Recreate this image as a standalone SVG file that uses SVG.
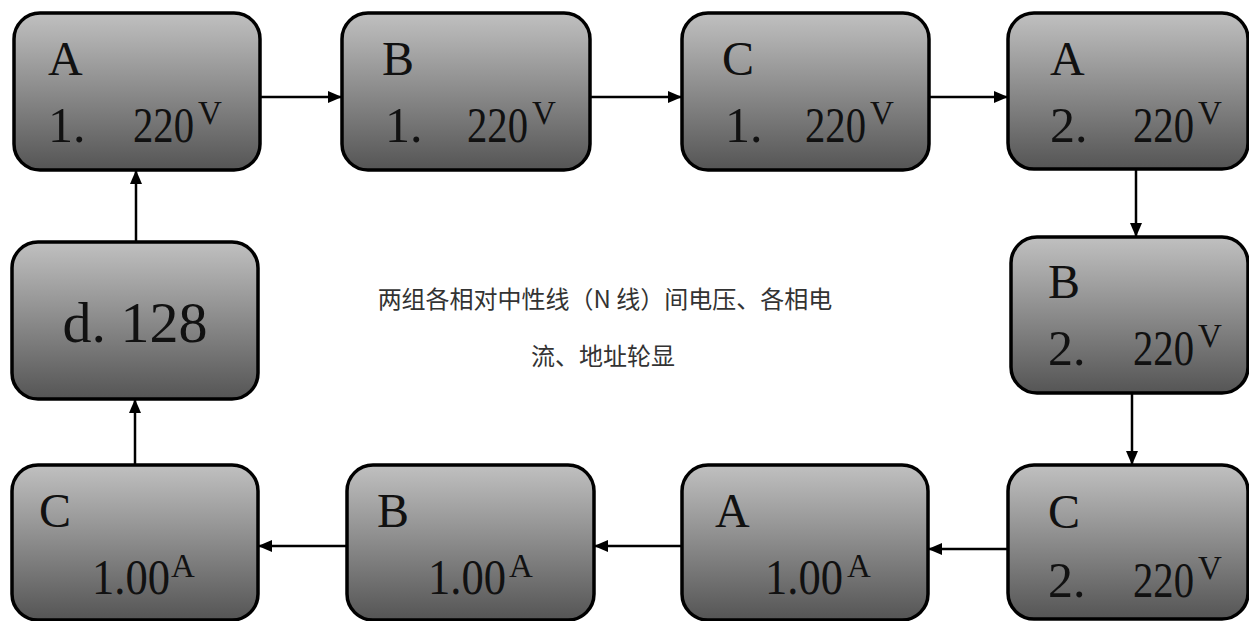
<svg xmlns="http://www.w3.org/2000/svg" width="1249" height="621" viewBox="0 0 1249 621">
<defs>
<linearGradient id="g" x1="0" y1="0" x2="0" y2="1">
<stop offset="0" stop-color="#c0c0c0"/>
<stop offset="1" stop-color="#555555"/>
</linearGradient>
<marker id="ah" markerWidth="14" markerHeight="12" refX="14" refY="6" orient="auto" markerUnits="userSpaceOnUse">
<path d="M0,0 L14,6 L0,12 Z" fill="#000"/>
</marker>
<style>
.box{fill:url(#g);stroke:#000;stroke-width:3.5}
.t{font-family:"Liberation Serif","Times New Roman",serif;font-size:48px;fill:#111}
.n{font-family:"Liberation Serif","Times New Roman",serif;font-size:50px;fill:#111}
.s{font-size:33px}
.big{font-family:"Liberation Serif","Times New Roman",serif;font-size:58px;fill:#111}
.cn{font-family:"Noto Sans CJK SC",sans-serif;font-size:24px;fill:#333}
.c{stroke:#000;stroke-width:2.5;fill:none;marker-end:url(#ah)}
</style>
</defs>
<rect width="1249" height="621" fill="#fff"/>
<g id="connectors">
<line class="c" x1="260" y1="97" x2="342" y2="97"/>
<line class="c" x1="590" y1="97" x2="682" y2="97"/>
<line class="c" x1="929" y1="97" x2="1008" y2="97"/>
<line class="c" x1="1136" y1="170" x2="1136" y2="237"/>
<line class="c" x1="1132" y1="393" x2="1132" y2="465"/>
<line class="c" x1="1008" y1="549" x2="928" y2="549"/>
<line class="c" x1="682" y1="546" x2="594" y2="546"/>
<line class="c" x1="347" y1="546" x2="258" y2="546"/>
<line class="c" x1="135" y1="465" x2="135" y2="399"/>
<line class="c" x1="136" y1="242" x2="136" y2="170"/>
</g>
<g id="n1">
<rect class="box" x="14" y="13" width="246" height="157" rx="26"/>
<text class="t" x="48" y="75">A</text>
<text class="n" x="48" y="142">1.</text>
<text class="n" x="133" y="142"><tspan textLength="61" lengthAdjust="spacingAndGlyphs">220</tspan><tspan class="s" x="198" y="124">V</tspan></text>
</g>
<g id="n2">
<rect class="box" x="342" y="13" width="248" height="157" rx="26"/>
<text class="t" x="382" y="75">B</text>
<text class="n" x="385" y="142">1.</text>
<text class="n" x="467" y="142"><tspan textLength="61" lengthAdjust="spacingAndGlyphs">220</tspan><tspan class="s" x="532" y="124">V</tspan></text>
</g>
<g id="n3">
<rect class="box" x="682" y="13" width="247" height="157" rx="26"/>
<text class="t" x="722" y="75">C</text>
<text class="n" x="725" y="142">1.</text>
<text class="n" x="805" y="142"><tspan textLength="61" lengthAdjust="spacingAndGlyphs">220</tspan><tspan class="s" x="870" y="124">V</tspan></text>
</g>
<g id="n4">
<rect class="box" x="1008" y="13" width="240" height="156" rx="26"/>
<text class="t" x="1050" y="75">A</text>
<text class="n" x="1050" y="142">2.</text>
<text class="n" x="1133" y="142"><tspan textLength="61" lengthAdjust="spacingAndGlyphs">220</tspan><tspan class="s" x="1198" y="124">V</tspan></text>
</g>
<g id="n5">
<rect class="box" x="1011" y="237" width="237" height="156" rx="26"/>
<text class="t" x="1048" y="298">B</text>
<text class="n" x="1048" y="365">2.</text>
<text class="n" x="1133" y="365"><tspan textLength="61" lengthAdjust="spacingAndGlyphs">220</tspan><tspan class="s" x="1198" y="347">V</tspan></text>
</g>
<g id="n6">
<rect class="box" x="1008" y="465" width="240" height="154" rx="26"/>
<text class="t" x="1048" y="528">C</text>
<text class="n" x="1048" y="597">2.</text>
<text class="n" x="1133" y="597"><tspan textLength="61" lengthAdjust="spacingAndGlyphs">220</tspan><tspan class="s" x="1198" y="579">V</tspan></text>
</g>
<g id="n7">
<rect class="box" x="682" y="465" width="246" height="155" rx="26"/>
<text class="t" x="715" y="527">A</text>
<text class="n" x="765" y="594"><tspan textLength="78" lengthAdjust="spacingAndGlyphs">1.00</tspan><tspan class="s" x="847" y="577">A</tspan></text>
</g>
<g id="n8">
<rect class="box" x="347" y="465" width="247" height="155" rx="26"/>
<text class="t" x="377" y="527">B</text>
<text class="n" x="428" y="594"><tspan textLength="78" lengthAdjust="spacingAndGlyphs">1.00</tspan><tspan class="s" x="509" y="577">A</tspan></text>
</g>
<g id="n9">
<rect class="box" x="12" y="465" width="246" height="155" rx="26"/>
<text class="t" x="39" y="527">C</text>
<text class="n" x="92" y="594"><tspan textLength="78" lengthAdjust="spacingAndGlyphs">1.00</tspan><tspan class="s" x="171" y="577">A</tspan></text>
</g>
<g id="n10">
<rect class="box" x="12" y="242" width="246" height="157" rx="26"/>
<text class="big" x="135" y="342" text-anchor="middle">d. 128</text>
</g>
<g id="label">
<text class="cn" x="605" y="308" text-anchor="middle">两组各相对中性线（N 线）间电压、各相电</text>
<text class="cn" x="603" y="365" text-anchor="middle">流、地址轮显</text>
</g>
</svg>
